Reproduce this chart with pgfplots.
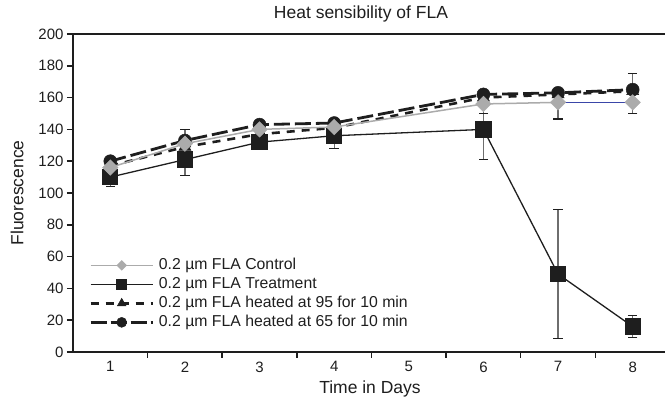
\documentclass[border=0pt]{standalone}
\usepackage{fontspec}
\setmainfont{Liberation Sans}
\usepackage{pgfplots}
\pgfplotsset{compat=1.18}
\definecolor{ctrl}{HTML}{ABABAB}
\definecolor{ebar}{HTML}{6E6E6E}
\definecolor{txt}{HTML}{1E1E1E}
\definecolor{bline}{HTML}{3A46A8}
\definecolor{mk}{HTML}{1E1E1E}

\begin{document}
\begin{tikzpicture}
\useasboundingbox (-73pt,-49pt) rectangle (592pt,352pt);
\begin{axis}[
  at={(0pt,0pt)}, anchor=south west,
  scale only axis, width=597pt, height=318pt,
  xmin=0.5, xmax=8.5, ymin=0, ymax=200,
  axis x line*=box, axis y line*=left,
  axis line style={line width=2pt, color=txt},
  xtick={1,...,8},
  minor xtick={1.5,2.5,...,7.5},
  ytick={0,20,...,200},
  xtick pos=left, ytick pos=left,
  tick align=outside,
  major tick length=6pt, minor tick length=6pt,
  major x tick style={draw=none},
  minor x tick style={line width=1.5pt, color=txt},
  major y tick style={line width=1.5pt, color=txt},
  /pgf/number format/assume math mode=true,
  ticklabel style={font=\fontsize{15}{17}\selectfont, color=txt},
  title={Heat sensibility of FLA},
  title style={font=\fontsize{17.5}{20}\selectfont, color=txt, at={(axis description cs:0.4824,1)}, anchor=base, yshift=9pt},
  xlabel={Time in Days},
  xlabel style={font=\fontsize{17.5}{20}\selectfont, color=txt, at={(axis description cs:0.4975,-0.132)}, anchor=base},
  ylabel={Fluorescence},
  ylabel style={font=\fontsize{17.5}{20}\selectfont, color=txt, at={(axis description cs:-0.0938,0.5)}, anchor=center},
  legend image code/.code={\draw[mark repeat=2,mark phase=2,#1] plot coordinates {(0pt,0pt) (31pt,0pt) (62pt,0pt)};},
  legend style={at={(axis description cs:0.027,0.303)}, anchor=north west, draw=none, fill=none, inner sep=0pt, row sep=0pt,
    font=\fontsize{15.8}{17}\selectfont, text=txt,
    nodes={inner xsep=4.8pt, inner ysep=1.5pt, text height=12pt, text depth=4pt}},
  legend cell align=left,
  error bars/error bar style={line width=1.2pt, color=ebar},
  error bars/error mark options={rotate=90, mark size=4.7pt, line width=1.2pt, color=mk},
]
% legend images
\addlegendimage{color=ctrl, line width=1.5pt, mark=square*, mark options={rotate=45, fill=ctrl, draw=ctrl, solid}, mark size=3pt}
\addlegendentry{0.2 µm FLA Control}
\addlegendimage{color=mk, line width=1.3pt, mark=square*, mark options={fill=mk, solid}, mark size=5pt}
\addlegendentry{0.2 µm FLA Treatment}
\addlegendimage{color=mk, line width=2.6pt, dash pattern=on 8pt off 7pt, mark=triangle*, mark options={fill=mk, solid, line width=0.5pt}, mark size=5pt}
\addlegendentry{0.2 µm FLA heated at 95 for 10 min}
\addlegendimage{color=mk, line width=2.8pt, dash pattern=on 16pt off 4pt, mark=*, mark options={fill=mk, solid, line width=0.5pt}, mark size=5pt}
\addlegendentry{0.2 µm FLA heated at 65 for 10 min}

% heated at 95
\addplot[forget plot, color=mk, line width=2.6pt, dash pattern=on 8pt off 7pt, mark=triangle*, mark options={fill=mk, solid, line width=0.5pt}, mark size=7pt]
coordinates {(1,117) (2,129) (3,137) (4,141) (6,160) (7,162) (8,164)};

% heated at 65
\addplot[forget plot, color=mk, line width=2.8pt, dash pattern=on 16pt off 5pt, mark=*, mark options={fill=mk, solid, line width=0.5pt}, mark size=6.5pt,
  error bars/.cd, y dir=plus, y explicit]
coordinates {(1,120) +- (0,0) (2,133) +- (0,7) (3,143) +- (0,0) (4,144) +- (0,0) (6,162) +- (0,0) (7,163) +- (0,0) (8,165) +- (0,10)};

% treatment
\addplot[forget plot, color=mk, line width=1.3pt, mark=square*, mark options={fill=mk, solid}, mark size=7.5pt,
  error bars/.cd, y dir=both, y explicit]
coordinates {(1,110) +- (0,6) (2,121) +- (0,10) (3,132) +- (0,0) (4,136) +- (0,8) (6,140) +- (0,19) (7,49) +- (0,40.5) (8,16) +- (0,7)};

% control line (gray up to day 7, blue from 7 to 8)
\addplot[forget plot, color=ctrl, line width=1.5pt]
coordinates {(1,116) (2,131) (3,140) (4,141.5) (6,156) (7,157)};
\addplot[forget plot, color=bline, line width=1.3pt]
coordinates {(7,157) (8,157)};
% control marks
\addplot[forget plot, only marks, mark=square*, mark options={rotate=45, fill=ctrl, draw=ctrl}, mark size=5.5pt,
  error bars/.cd, y dir=minus, y explicit]
coordinates {(1,116) +- (0,0) (2,131) +- (0,0) (3,140) +- (0,0) (4,141.5) +- (0,0) (6,156) +- (0,6) (7,157) +- (0,10.5) (8,157) +- (0,7)};
\end{axis}
\end{tikzpicture}
\end{document}
